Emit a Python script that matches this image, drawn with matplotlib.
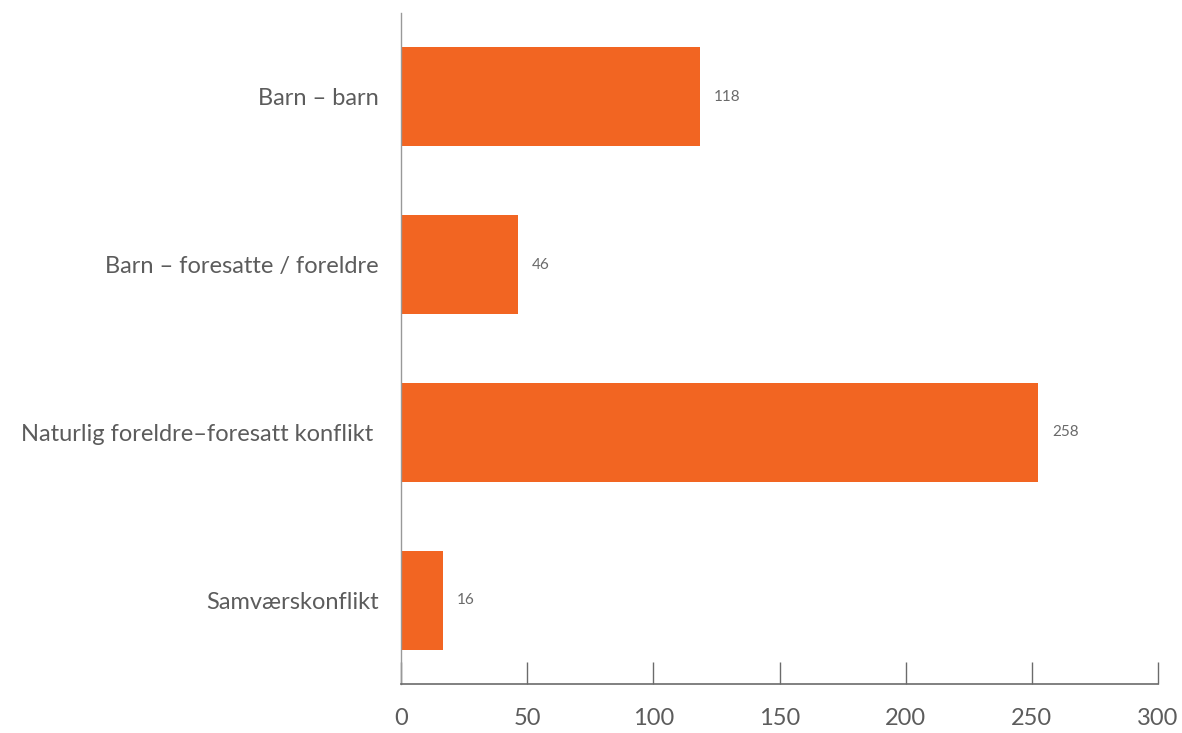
import matplotlib
matplotlib.use("Agg")
import matplotlib.pyplot as plt

# data
categories = ["Barn – barn", "Barn – foresatte / foreldre",
              "Naturlig foreldre–foresatt konflikt ", "Samværskonflikt"]
bar_values = [118.5, 46.4, 252.5, 16.6]      # bar lengths as drawn
value_labels = ["118", "46", "258", "16"]
xticks = [0, 50, 100, 150, 200, 250, 300]

plt.rcParams['font.family'] = ['Lato', 'DejaVu Sans']
text_col = '#5c5c5c'
axis_col = '#6b6b6b'

fig = plt.figure(figsize=(11.82, 7.33), dpi=100)
ax = fig.add_axes([401/1182, 1-684/733, (1158-401)/1182, (684-13)/733])

y = list(range(len(categories)))
ax.barh(y, bar_values, height=0.59, color='#F26522')
for yi, v, lab in zip(y, bar_values, value_labels):
    ax.text(v + 5.5, yi, lab, va='center', ha='left', fontsize=11, color='#6a6a6a')

ax.set_xlim(0, 300)
ax.set_ylim(3.5, -0.5)
ax.set_yticks(y)
ax.set_yticklabels(categories, fontsize=17, color=text_col)
ax.set_xticks(xticks)
ax.set_xticklabels([str(t) for t in xticks], fontsize=17, color=text_col)

for s in ['top', 'right']:
    ax.spines[s].set_visible(False)
ax.spines['left'].set_color('#999999')
ax.spines['bottom'].set_color(axis_col)
ax.spines['left'].set_linewidth(1.0)
ax.spines['bottom'].set_linewidth(1.2)

ax.tick_params(axis='y', length=0, pad=16)
ax.tick_params(axis='x', direction='in', length=16, width=1, color=axis_col, pad=17)

fig.savefig('out.png', dpi=100, facecolor='white')
